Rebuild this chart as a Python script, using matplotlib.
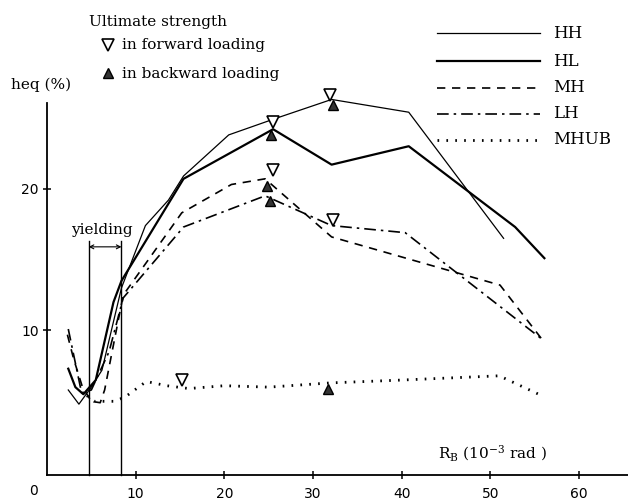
import matplotlib
matplotlib.use("Agg")
import matplotlib.pyplot as plt
from matplotlib.lines import Line2D

plt.rcParams["mathtext.fontset"] = "dejavuserif"

# ---------------- data ----------------
hh_x = [2.4, 3.6, 5.0, 6.2, 8.4, 11.1, 13.7, 15.4, 20.5, 25.5, 32.1, 40.8, 51.5]
hh_y = [5.8, 4.8, 6.0, 7.2, 13.0, 17.4, 19.2, 20.9, 23.8, 24.9, 26.3, 25.4, 16.5]

hl_x = [2.4, 3.2, 4.1, 5.5, 7.5, 8.4, 15.4, 25.5, 32.1, 40.8, 52.8, 56.1]
hl_y = [7.3, 6.0, 5.5, 6.5, 12.0, 13.5, 20.7, 24.2, 21.7, 23.0, 17.3, 15.1]

mh_x = [2.3, 3.0, 4.0, 5.0, 6.0, 6.5, 7.5, 8.6, 15.2, 20.8, 24.6, 32.1, 51.1, 55.8]
mh_y = [9.7, 8.0, 6.0, 5.0, 4.9, 5.8, 9.0, 12.5, 18.3, 20.3, 20.7, 16.6, 13.2, 9.4]

lh_x = [2.4, 3.0, 3.9, 5.0, 7.0, 8.6, 15.4, 24.6, 32.1, 40.4, 55.8]
lh_y = [10.1, 8.3, 5.6, 5.8, 8.5, 12.3, 17.3, 19.5, 17.4, 16.9, 9.4]

mhub_x = [4.5, 5.3, 7.6, 8.8, 11.2, 13.5, 16.0, 20.0, 25.0, 32.0, 40.0, 51.0, 55.8]
mhub_y = [5.4, 5.0, 5.0, 5.3, 6.4, 6.1, 5.9, 6.1, 6.0, 6.3, 6.5, 6.8, 5.4]

# ultimate strength markers
fwd_x = [25.5, 31.9, 25.5, 32.3, 15.2]
fwd_y = [24.7, 26.6, 21.3, 17.8, 6.5]
bwd_x = [25.3, 32.3, 24.8, 25.2, 31.7]
bwd_y = [23.8, 25.9, 20.2, 19.1, 5.9]

series_names = ["HH", "HL", "MH", "LH", "MHUB"]
x_ticks = [10, 20, 30, 40, 50, 60]
y_ticks = [10, 20]
yield_x = [4.7, 8.4]

# ---------------- figure ----------------
W, H = 628, 500
fig = plt.figure(figsize=(W / 100, H / 100), dpi=100)
ax = fig.add_axes([47 / W, (H - 475) / H, (W - 47) / W, (475 - 103) / H])
ax.set_xlim(0, (W - 47) / 8.866)
ax.set_ylim(-0.2, 26.05)

serif = "DejaVu Serif"

styles = {
    "HH": dict(color="black", lw=0.9, ls="-"),
    "HL": dict(color="black", lw=1.6, ls="-"),
    "MH": dict(color="black", lw=1.2, ls=(0, (5, 4))),
    "LH": dict(color="black", lw=1.2, ls=(0, (7, 3, 1.5, 3))),
    "MHUB": dict(color="black", lw=2.0, ls=(0, (0.6, 2.6))),
}
data = {"HH": (hh_x, hh_y), "HL": (hl_x, hl_y), "MH": (mh_x, mh_y),
        "LH": (lh_x, lh_y), "MHUB": (mhub_x, mhub_y)}
for name in series_names:
    xs, ys = data[name]
    ax.plot(xs, ys, clip_on=False, **styles[name])

ax.plot(fwd_x, fwd_y, ls="none", marker="v", ms=9, mfc="white", mec="black",
        mew=1.2, clip_on=False, zorder=5)
ax.plot(bwd_x, bwd_y, ls="none", marker="^", ms=7, mfc="#333333", mec="black",
        mew=1.0, clip_on=False, zorder=5)

# yielding
for xv in yield_x:
    ax.plot([xv, xv], [-0.2, 16.3], color="black", lw=1.0, clip_on=False)
ax.annotate("", xy=(yield_x[0], 15.9), xytext=(yield_x[1], 15.9),
            arrowprops=dict(arrowstyle="<->", lw=0.8, color="black",
                            shrinkA=0, shrinkB=0, mutation_scale=7))
ax.text(6.2, 17.1, "yielding", fontsize=11, family=serif, ha="center", va="center")

# axes styling
for s in ["top", "right"]:
    ax.spines[s].set_visible(False)
ax.spines["left"].set_linewidth(1.3)
ax.spines["bottom"].set_linewidth(1.3)
ax.set_xticks(x_ticks)
ax.set_yticks(y_ticks)
ax.tick_params(direction="inout", length=6, width=1.1, labelsize=10, pad=3)
ax.set_xticklabels([str(t) for t in x_ticks])
ax.set_yticklabels([str(t) for t in y_ticks])
ax.tick_params(axis="x", pad=6)

# figure-level text (pixel coordinates)
def fx(px):
    return px / W

def fy(py):
    return 1 - py / H

fig.text(fx(33), fy(491), "0", fontsize=10, ha="center", va="center")
fig.text(fx(11), fy(85), "heq (%)", fontsize=11, family=serif, ha="left", va="center")
fig.text(fx(89), fy(22), "Ultimate strength", fontsize=11, family=serif, ha="left", va="center")
fig.text(fx(122), fy(45), "in forward loading", fontsize=11, family=serif, ha="left", va="center")
fig.text(fx(122), fy(74), "in backward loading", fontsize=11, family=serif, ha="left", va="center")
fig.add_artist(Line2D([fx(108)], [fy(45)], marker="v", ms=8, mfc="white", mec="black",
                      mew=1.2, ls="none", transform=fig.transFigure))
fig.add_artist(Line2D([fx(108)], [fy(73)], marker="^", ms=7, mfc="#333333", mec="black",
                      mew=1.0, ls="none", transform=fig.transFigure))
fig.text(fx(438), fy(453), r"R$_\mathrm{B}$ (10$^{-3}$ rad )", fontsize=11, family=serif,
         ha="left", va="center")

# legend
leg_y = [33, 61, 88, 114, 140]
for name, py in zip(series_names, leg_y):
    fig.add_artist(Line2D([fx(437), fx(540)], [fy(py), fy(py)],
                          transform=fig.transFigure, **styles[name]))
    fig.text(fx(553), fy(py), name, fontsize=12, family=serif, ha="left", va="center")

fig.savefig("out.png", dpi=100)
